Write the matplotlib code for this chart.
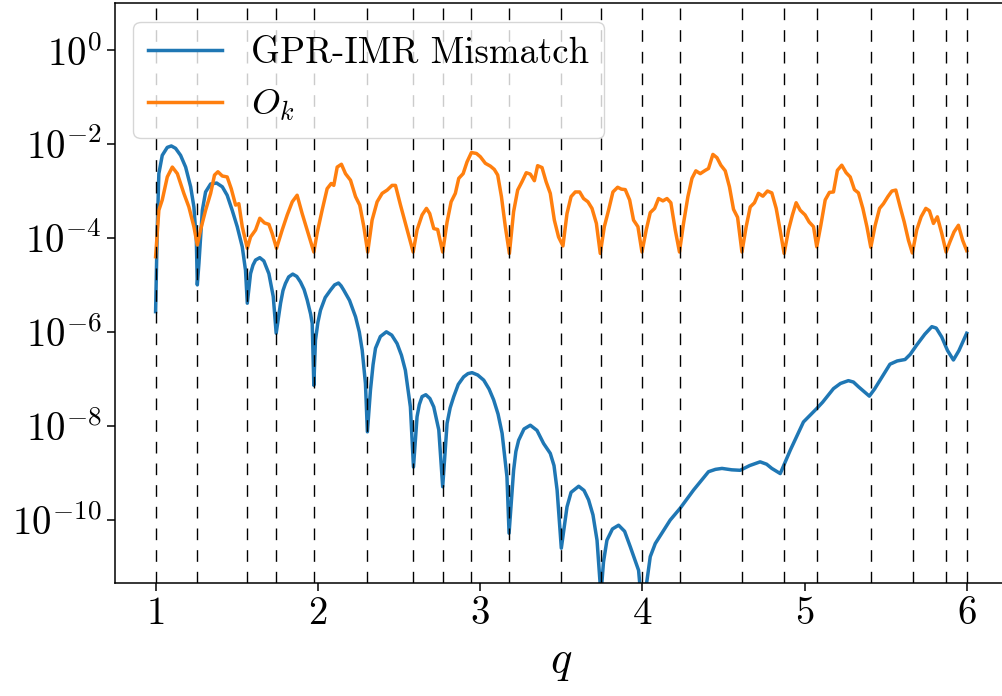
import numpy as np
import matplotlib
matplotlib.use("Agg")
import matplotlib.pyplot as plt

plt.rcParams['font.family'] = 'serif'
plt.rcParams['font.serif'] = ['cmr10']
plt.rcParams['mathtext.fontset'] = 'cm'
plt.rcParams['axes.formatter.use_mathtext'] = True

# training values of the mass ratio
q_train = [1.000, 1.257, 1.565, 1.743, 1.975, 2.305, 2.589, 2.769, 2.946, 3.178,
           3.500, 3.744, 4.000, 4.231, 4.615, 4.871, 5.076, 5.409, 5.666, 5.871, 5.998]

# GPR-IMR mismatch, (q, log10 mismatch)
mismatch = [
    (1.000, -5.57), (1.010, -3.83), (1.020, -2.63), (1.041, -2.24), (1.072, -2.07),
    (1.097, -2.04), (1.123, -2.09), (1.154, -2.24), (1.185, -2.49), (1.216, -2.91),
    (1.236, -3.34), (1.251, -4.05), (1.257, -5.00),
    (1.267, -4.54), (1.288, -3.41), (1.308, -3.02), (1.339, -2.85), (1.376, -2.83),
    (1.411, -2.91), (1.441, -3.09), (1.472, -3.41), (1.503, -3.76), (1.534, -4.19),
    (1.554, -4.69), (1.565, -5.39),
    (1.585, -4.76), (1.600, -4.58), (1.616, -4.47), (1.642, -4.42), (1.667, -4.49),
    (1.698, -4.76), (1.725, -5.25), (1.743, -6.03),
    (1.770, -5.39), (1.785, -5.12), (1.800, -4.97), (1.820, -4.83), (1.845, -4.77),
    (1.870, -4.82), (1.893, -4.94), (1.915, -5.10), (1.934, -5.32), (1.955, -5.62),
    (1.965, -5.82), (1.975, -7.14),
    (1.985, -6.18), (2.000, -5.80), (2.016, -5.54), (2.045, -5.27), (2.078, -5.11),
    (2.103, -5.00), (2.127, -4.96), (2.143, -5.02), (2.159, -5.11), (2.195, -5.33),
    (2.232, -5.68), (2.255, -6.00), (2.273, -6.39), (2.293, -7.10), (2.305, -8.13),
    (2.324, -7.24), (2.340, -6.70), (2.355, -6.35), (2.385, -6.10), (2.422, -6.00),
    (2.455, -6.07), (2.488, -6.25), (2.515, -6.50), (2.539, -6.82), (2.570, -7.60),
    (2.589, -8.88),
    (2.611, -7.81), (2.625, -7.55), (2.642, -7.38), (2.665, -7.34), (2.690, -7.42),
    (2.714, -7.60), (2.745, -8.09), (2.769, -9.30),
    (2.796, -7.95), (2.815, -7.62), (2.837, -7.38), (2.865, -7.12), (2.898, -6.96),
    (2.925, -6.89), (2.950, -6.87), (2.985, -6.92), (3.022, -7.03), (3.055, -7.22),
    (3.083, -7.45), (3.110, -7.75), (3.135, -8.16), (3.165, -9.09), (3.178, -10.29),
    (3.206, -8.95), (3.220, -8.55), (3.237, -8.31), (3.270, -8.07), (3.309, -7.99),
    (3.350, -8.10), (3.391, -8.38), (3.432, -8.59), (3.455, -8.85), (3.474, -9.37),
    (3.500, -10.61),
    (3.535, -9.73), (3.560, -9.42), (3.607, -9.29), (3.640, -9.38), (3.668, -9.58),
    (3.695, -9.90), (3.720, -10.44), (3.744, -11.60),
    (3.760, -10.90), (3.781, -10.44), (3.815, -10.20), (3.853, -10.12), (3.890, -10.25),
    (3.925, -10.58), (3.976, -11.08), (4.000, -12.00),
    (4.048, -10.79), (4.079, -10.51), (4.171, -10.01), (4.232, -9.76), (4.315, -9.37),
    (4.407, -8.98), (4.450, -8.93), (4.490, -8.91), (4.550, -8.94), (4.602, -8.95),
    (4.660, -8.85), (4.725, -8.77), (4.765, -8.82), (4.797, -8.91), (4.849, -9.02),
    (4.911, -8.52), (4.992, -7.92), (5.075, -7.63), (5.110, -7.50), (5.177, -7.21),
    (5.220, -7.10), (5.269, -7.04), (5.300, -7.07), (5.331, -7.17), (5.398, -7.37),
    (5.430, -7.22), (5.464, -7.03), (5.525, -6.69), (5.570, -6.62), (5.618, -6.59),
    (5.650, -6.48), (5.690, -6.28), (5.740, -6.05), (5.783, -5.89), (5.810, -5.92),
    (5.844, -6.11), (5.880, -6.40), (5.916, -6.60), (5.950, -6.40), (5.998, -6.03),
]

# O_k, (q, log10 O_k)
overlap = [
    (1.000, -4.40), (1.020, -3.41), (1.041, -3.19), (1.072, -2.70), (1.103, -2.49),
    (1.134, -2.63), (1.174, -3.05), (1.205, -3.34), (1.236, -3.76), (1.257, -4.15),
    (1.277, -3.83), (1.308, -3.41), (1.339, -3.05), (1.363, -2.66), (1.384, -2.59),
    (1.411, -2.68), (1.441, -2.70), (1.466, -2.95), (1.493, -3.30), (1.513, -3.27),
    (1.534, -3.76), (1.565, -4.22), (1.585, -3.98), (1.616, -3.83), (1.642, -3.58),
    (1.671, -3.68), (1.698, -3.71), (1.718, -3.90), (1.745, -4.22), (1.780, -3.83),
    (1.811, -3.51), (1.842, -3.23), (1.872, -3.09), (1.903, -3.48), (1.934, -3.83),
    (1.975, -4.30), (1.995, -3.90), (2.026, -3.41), (2.057, -2.95), (2.082, -2.84),
    (2.098, -2.88), (2.119, -2.49), (2.145, -2.43), (2.170, -2.63), (2.201, -2.77),
    (2.232, -3.12), (2.258, -3.30), (2.283, -3.76), (2.307, -4.30), (2.334, -3.62),
    (2.365, -3.23), (2.396, -3.05), (2.427, -2.98), (2.457, -2.88), (2.478, -2.88),
    (2.509, -3.30), (2.550, -3.83), (2.587, -4.30), (2.611, -3.83), (2.642, -3.51),
    (2.669, -3.37), (2.689, -3.48), (2.714, -3.80), (2.738, -3.82), (2.769, -4.30),
    (2.796, -3.66), (2.821, -3.23), (2.847, -3.05), (2.868, -2.73), (2.895, -2.63),
    (2.919, -2.38), (2.946, -2.18), (2.977, -2.20), (3.001, -2.27), (3.032, -2.41),
    (3.063, -2.47), (3.087, -2.54), (3.108, -2.66), (3.131, -3.12), (3.155, -3.76),
    (3.180, -4.33), (3.206, -3.44), (3.231, -2.98), (3.258, -2.80), (3.284, -2.61),
    (3.309, -2.64), (3.334, -2.78), (3.354, -2.46), (3.381, -2.50), (3.406, -2.80),
    (3.432, -3.05), (3.457, -3.62), (3.483, -3.98), (3.510, -4.17), (3.535, -3.48),
    (3.560, -3.12), (3.586, -3.02), (3.613, -3.02), (3.637, -3.16), (3.664, -3.23),
    (3.689, -3.37), (3.716, -3.69), (3.740, -4.33), (3.765, -3.76), (3.791, -3.41),
    (3.818, -3.02), (3.847, -2.92), (3.870, -2.96), (3.894, -2.97), (3.921, -3.19),
    (3.945, -3.62), (3.972, -3.76), (3.997, -4.30), (4.023, -3.83), (4.048, -3.46),
    (4.075, -3.37), (4.099, -3.16), (4.126, -3.21), (4.151, -3.16), (4.175, -3.25),
    (4.202, -3.83), (4.228, -4.30), (4.253, -3.69), (4.280, -3.12), (4.305, -2.73),
    (4.329, -2.57), (4.356, -2.63), (4.387, -2.56), (4.407, -2.52), (4.434, -2.22),
    (4.459, -2.29), (4.483, -2.45), (4.510, -2.57), (4.536, -2.91), (4.561, -3.39),
    (4.586, -3.56), (4.613, -4.30), (4.639, -3.76), (4.664, -3.34), (4.690, -3.25),
    (4.715, -3.05), (4.742, -3.11), (4.770, -3.00), (4.797, -3.04), (4.824, -3.37),
    (4.848, -3.83), (4.873, -4.33), (4.900, -3.83), (4.924, -3.51), (4.947, -3.25),
    (4.972, -3.41), (5.002, -3.51), (5.027, -3.66), (5.054, -3.76), (5.074, -4.19),
    (5.099, -3.73), (5.126, -3.19), (5.152, -3.03), (5.177, -3.02), (5.201, -2.56),
    (5.228, -2.45), (5.255, -2.61), (5.280, -2.70), (5.306, -2.97), (5.331, -3.04),
    (5.358, -3.37), (5.383, -3.76), (5.407, -4.20), (5.434, -3.73), (5.461, -3.37),
    (5.485, -3.27), (5.512, -3.12), (5.537, -3.00), (5.561, -2.98), (5.588, -3.34),
    (5.613, -3.66), (5.639, -4.05), (5.663, -4.32), (5.690, -3.83), (5.717, -3.55),
    (5.746, -3.37), (5.768, -3.42), (5.793, -3.69), (5.817, -3.55), (5.844, -3.90),
    (5.871, -4.30), (5.895, -4.08), (5.920, -3.87), (5.947, -3.73), (5.973, -4.05),
    (5.998, -4.27),
]

q_mm, log_mm = np.array(mismatch).T
q_ok, log_ok = np.array(overlap).T

fig = plt.figure(figsize=(10.02, 6.96), dpi=100)
ax = fig.add_axes([0.1148, 0.162, 0.8908, 0.8333])

ax.semilogy(q_mm, 10**log_mm, color='C0', lw=2.5, label='GPR-IMR Mismatch')
ax.semilogy(q_ok, 10**log_ok, color='C1', lw=2.5, label='$O_k$')
# training points
for qt in q_train:
    ax.axvline(qt, color='k', lw=1.0, linestyle=(0, (8.4, 7.2)))

ax.set_xlim(0.75, 6.25)
ax.set_ylim(4.4e-12, 10)
ax.set_xticks([1, 2, 3, 4, 5, 6])
ax.set_yticks([1e0, 1e-2, 1e-4, 1e-6, 1e-8, 1e-10])
ax.yaxis.set_minor_locator(matplotlib.ticker.NullLocator())
ax.tick_params(labelsize=28, length=6, width=1.1)
for s in ax.spines.values():
    s.set_linewidth(1.1)

ax.set_xlabel('$q$', fontsize=32, labelpad=8)
ax.legend(loc='upper left', fontsize=26.5)

fig.savefig('out.png', dpi=100)
